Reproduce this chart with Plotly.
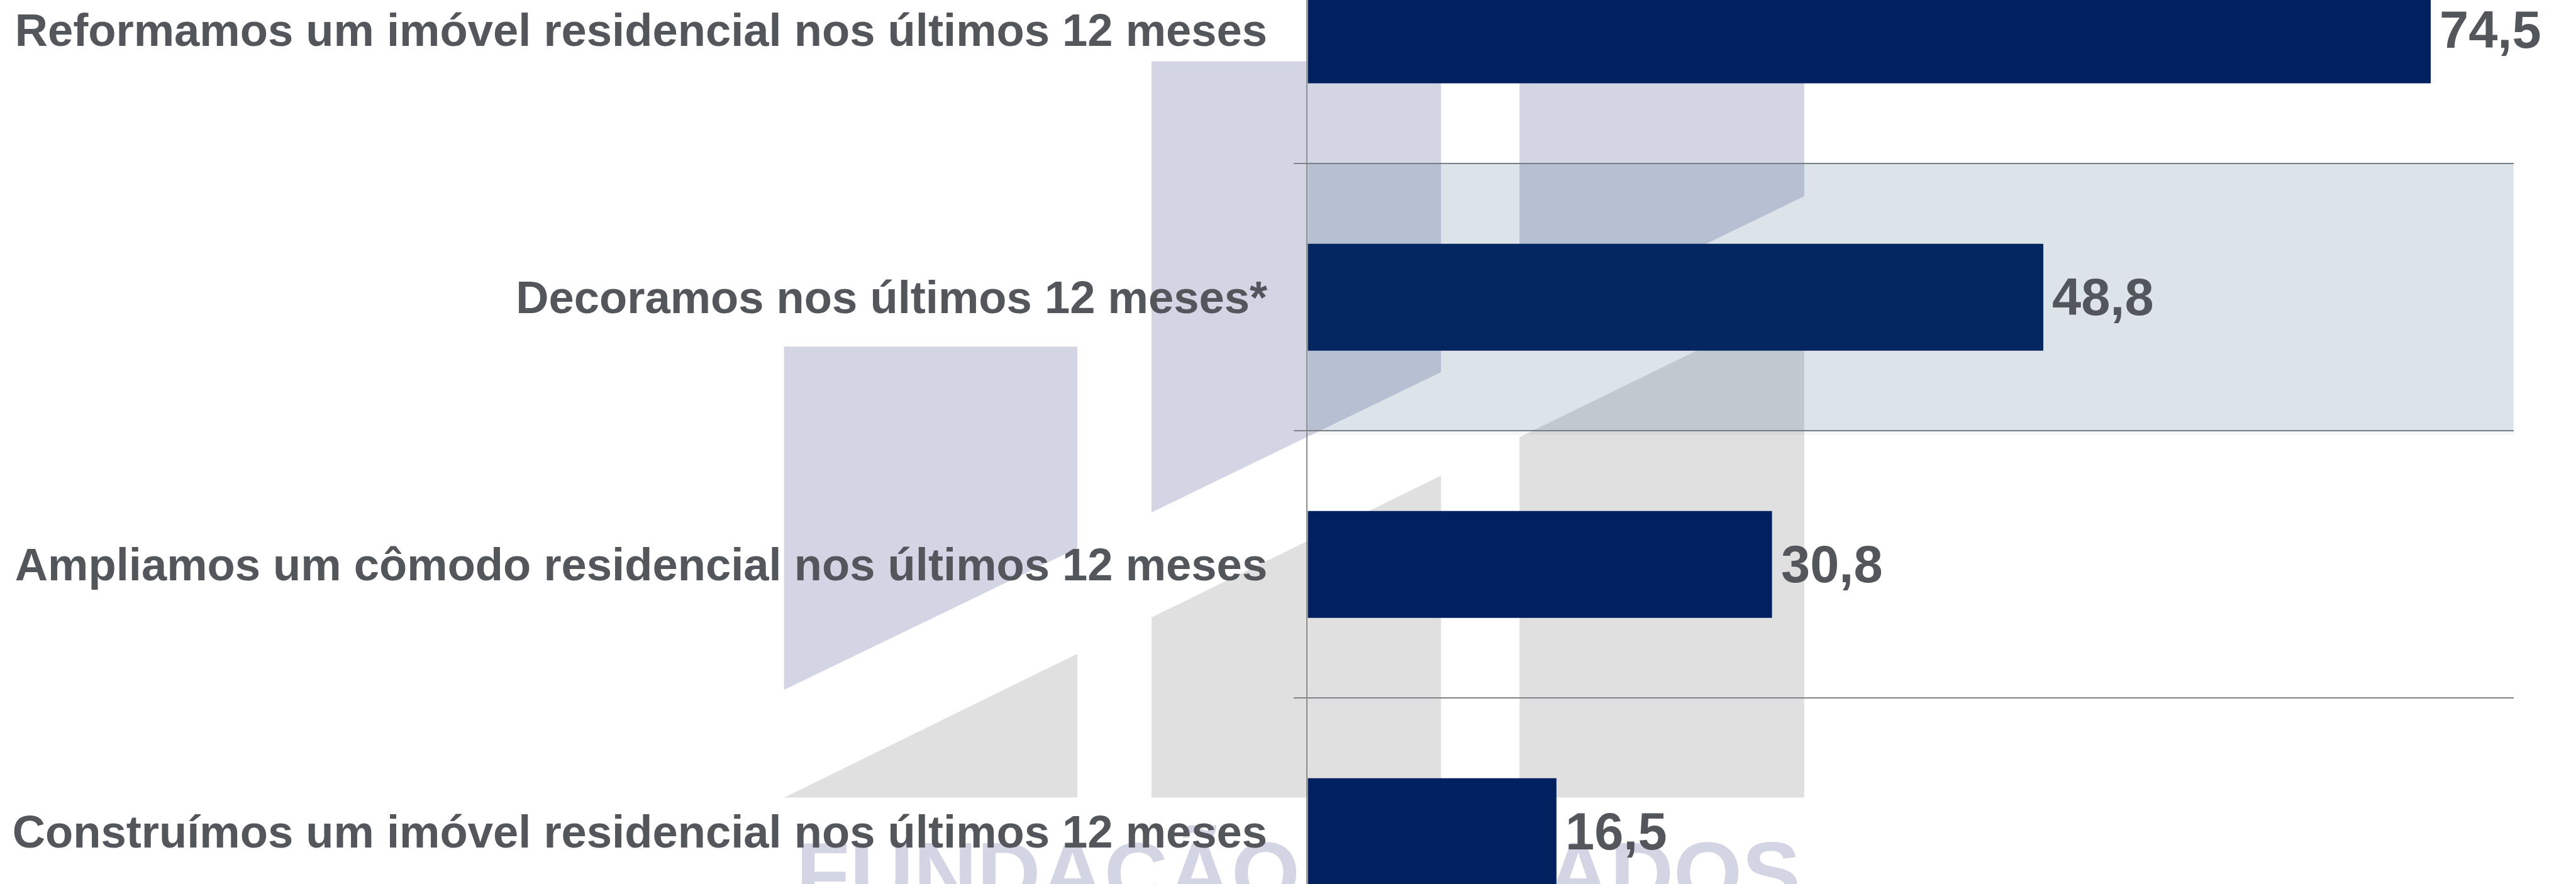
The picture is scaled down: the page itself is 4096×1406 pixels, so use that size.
import plotly.graph_objects as go

# ---------------- data ----------------
categories = [
    "Reformamos um imóvel residencial nos últimos 12 meses",
    "Decoramos nos últimos 12 meses*",
    "Ampliamos um cômodo residencial nos últimos 12 meses",
    "Construímos um imóvel residencial nos últimos 12 meses",
]
values = [74.5, 48.8, 30.8, 16.5]
value_labels = ["74,5", "48,8", "30,8", "16,5"]
highlight_category = "Decoramos nos últimos 12 meses*"

# ---------------- styling ----------------
W, H = 4096, 1406
REF_W, REF_H = 4830, 1658          # reference pixel grid
S = W / REF_W                       # 0.848

FONT = "Liberation Sans, Arial, Helvetica, sans-serif"
TXT = "#53575c"
BAR = "#002060"
GRID = "#7f8488"
AXLINE = "#8e8e8e"
WM_PURPLE = "#d3d5e4"
WM_GRAY = "#e0e0e0"


def px(x):
    return x / REF_W


def py(y):
    return 1 - y / REF_H


def poly(points):
    return "M " + " L ".join(f"{px(x):.5f},{py(y):.5f}" for x, y in points) + " Z"


# watermark logo outline (reference pixel coordinates)
wm_purple = [
    [(1470, 650), (2020, 650), (2020, 1028), (1470, 1294)],
    [(2159, 115), (2702, 115), (2702, 698), (2159, 961)],
    [(2849, 115), (3383, 115), (3383, 368), (2849, 627)],
]
wm_gray = [
    [(1470, 1496), (2020, 1226), (2020, 1496)],
    [(2159, 1158), (2702, 892), (2702, 1496), (2159, 1496)],
    [(2849, 820), (3383, 559), (3383, 1496), (2849, 1496)],
]

shapes = []
for p in wm_purple:
    shapes.append(dict(type="path", path=poly(p), xref="paper", yref="paper",
                       fillcolor=WM_PURPLE, line=dict(width=0), layer="below"))
for p in wm_gray:
    shapes.append(dict(type="path", path=poly(p), xref="paper", yref="paper",
                       fillcolor=WM_GRAY, line=dict(width=0), layer="below"))

# watermark wordmark (partly hidden)
for word, x0, x1 in [("FUNDAÇÃO", 1499, 2431), ("ADOS", 2900, 3376)]:
    shapes.append(dict(
        type="rect", xref="paper", yref="paper",
        x0=px(x0), x1=px(x1), y0=py(1684), y1=py(1559),
        line=dict(width=0), fillcolor="rgba(0,0,0,0)", layer="below",
        label=dict(text=word, textposition="middle center", padding=0,
                   font=dict(family=FONT, size=140, color=WM_PURPLE, weight="bold")),
    ))

hi = categories.index(highlight_category)
# highlight band over the second category
shapes.append(dict(type="rect", xref="x", yref="y", x0=0, x1=80,
                   y0=hi - 0.5, y1=hi + 0.5,
                   fillcolor="rgba(28,75,108,0.15)", line=dict(width=0), layer="above"))
shapes.append(dict(type="rect", xref="x", yref="y", x0=0, x1=80,
                   y0=hi + 0.5, y1=hi + 0.515,
                   fillcolor="rgba(0,0,0,0.035)", line=dict(width=0), layer="above"))

fig = go.Figure()
fig.add_trace(go.Bar(
    orientation="h",
    y=categories,
    x=values,
    width=0.4,
    marker=dict(color=BAR, line=dict(width=0)),
    hoverinfo="skip",
))

annotations = []
for c, v, t in zip(categories, values, value_labels):
    annotations.append(dict(
        x=v, y=c, xref="x", yref="y", text=t, showarrow=False,
        xanchor="left", yanchor="middle", xshift=12, yshift=0,
        font=dict(family=FONT, size=83, color=TXT, weight="bold"),
    ))

fig.update_layout(
    width=W, height=H,
    margin=dict(l=0, r=0, t=0, b=0, pad=0),
    paper_bgcolor="white",
    plot_bgcolor="rgba(0,0,0,0)",
    showlegend=False,
    shapes=shapes,
    annotations=annotations,
    xaxis=dict(
        domain=[2452 * S / W, 4713 * S / W],
        range=[0, 80],
        showgrid=False, zeroline=False, showline=False,
        showticklabels=False, ticks="",
    ),
    yaxis=dict(
        domain=[0, 1],
        type="category",
        categoryorder="array",
        categoryarray=categories,
        range=[3.196, -0.112],
        tickson="boundaries",
        ticks="outside",
        ticklen=21,
        tickwidth=1.7,
        tickcolor=GRID,
        showgrid=True,
        gridcolor=GRID,
        gridwidth=1.7,
        showline=True,
        linecolor=AXLINE,
        linewidth=1.5,
        zeroline=False,
        automargin=False,
        ticklabelstandoff=48,
        tickfont=dict(family=FONT, size=72.4, color=TXT, weight="bold"),
    ),
)

fig.write_html(
    "out.html",
    config={"displayModeBar": False},
    post_script="document.body.style.margin='0px';",
)
